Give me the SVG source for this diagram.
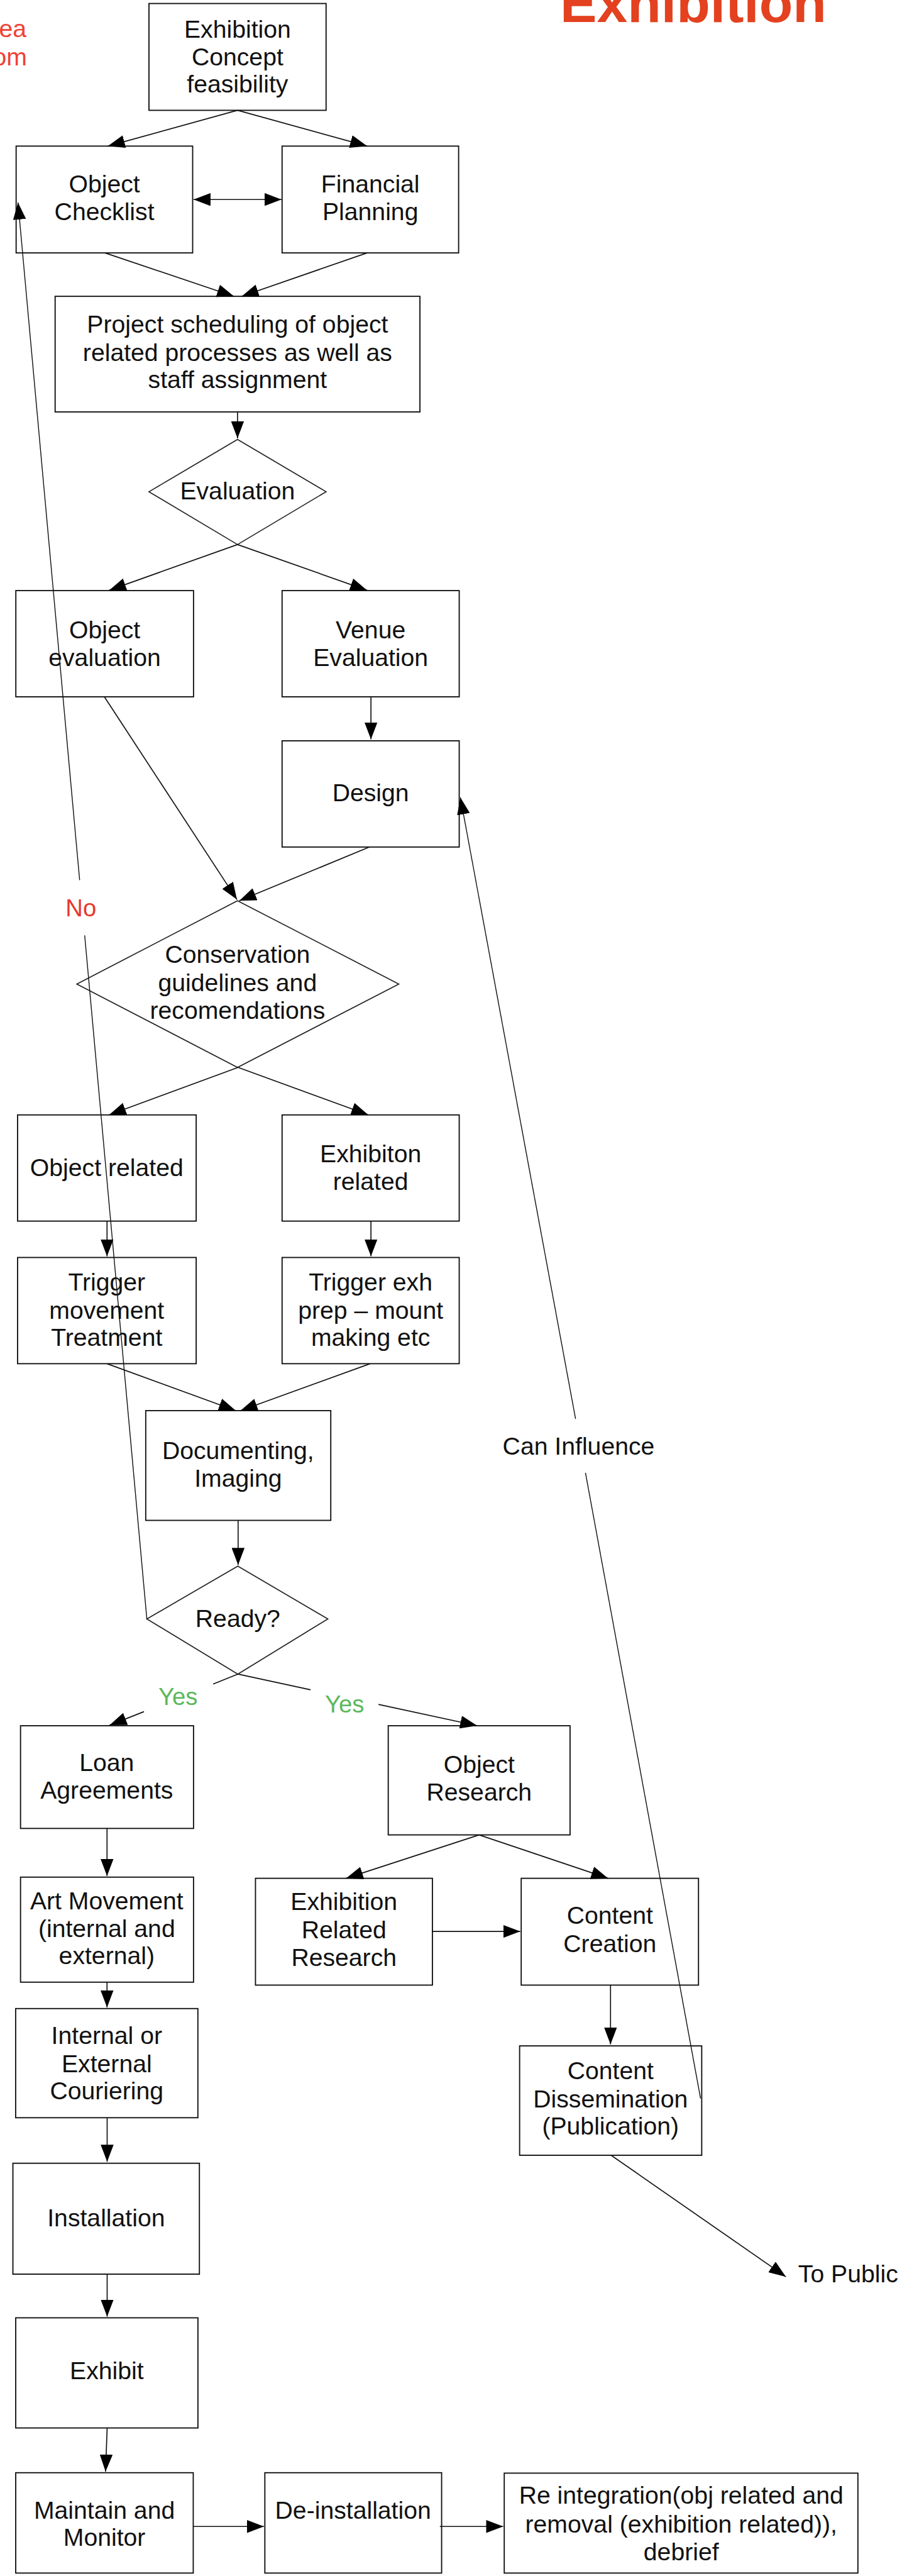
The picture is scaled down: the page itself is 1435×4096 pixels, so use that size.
<svg xmlns="http://www.w3.org/2000/svg" width="1435" height="4096" viewBox="0 0 1435 4096">
<style>
.box{fill:#fff;stroke:#111;stroke-width:2}
.dia{fill:#fff;stroke:#222;stroke-width:1.8}
.t{font-family:"Liberation Sans",Arial,Helvetica,sans-serif;font-size:42px;fill:#111;text-anchor:middle}
.c{fill:none;stroke:#111;stroke-width:1.8}
.thin{fill:none;stroke:#111;stroke-width:1.5}
.red{fill:#e8372b}
.green{fill:#5cb85c}
</style>
<defs>
<marker id="ah" markerUnits="userSpaceOnUse" markerWidth="29" markerHeight="22" refX="29" refY="11" orient="auto-start-reverse" viewBox="0 0 29 22">
<path d="M0,0 L29,11 L0,22 z" fill="#000"/>
</marker>
</defs>
<rect x="0" y="0" width="1435" height="4096" fill="#fff"/>
<g transform="scale(0.93303)">
<g id="page-text">
<text x="955" y="37" style="font-family:'Liberation Sans',Arial,sans-serif;font-size:94px;font-weight:bold;fill:#e3411f">Exhibition</text>
<text x="45" y="63" style="font-family:'Liberation Sans',Arial,sans-serif;font-size:42px;fill:#ef4136;text-anchor:end">ea</text>
<text x="46" y="111" style="font-family:'Liberation Sans',Arial,sans-serif;font-size:42px;fill:#ef4136;text-anchor:end">om</text>
</g>
<g id="n-concept"><rect class="box" x="254" y="6" width="302" height="182"/><text class="t"><tspan x="405" y="64">Exhibition</tspan><tspan x="405" y="112">Concept</tspan><tspan x="405" y="158">feasibility</tspan></text></g>
<g id="n-checklist"><rect class="box" x="27.5" y="249" width="301" height="182"/><text class="t"><tspan x="178" y="328">Object</tspan><tspan x="178" y="375">Checklist</tspan></text></g>
<g id="n-financial"><rect class="box" x="481" y="249" width="301" height="182"/><text class="t"><tspan x="631.5" y="328">Financial</tspan><tspan x="631.5" y="375">Planning</tspan></text></g>
<g id="n-scheduling"><rect class="box" x="94" y="505" width="622" height="197"/><text class="t"><tspan x="405" y="567">Project scheduling of object</tspan><tspan x="405" y="615">related processes as well as</tspan><tspan x="405" y="661">staff assignment</tspan></text></g>
<g id="d-evaluation"><polygon class="dia" points="405,749 556,838 405,928 254,838"/><text class="t" x="405" y="851">Evaluation</text></g>
<g id="n-objeval"><rect class="box" x="27" y="1006.5" width="303" height="181"/><text class="t"><tspan x="178.5" y="1088">Object</tspan><tspan x="178.5" y="1135">evaluation</tspan></text></g>
<g id="n-venue"><rect class="box" x="481" y="1006.5" width="302" height="181"/><text class="t"><tspan x="632" y="1088">Venue</tspan><tspan x="632" y="1135">Evaluation</tspan></text></g>
<g id="n-design"><rect class="box" x="481" y="1262.5" width="302" height="181"/><text class="t" x="632" y="1365">Design</text></g>
<g id="d-conservation"><polygon class="dia" points="405,1535 680,1677 405,1819 131,1677"/><text class="t"><tspan x="405" y="1641">Conservation</tspan><tspan x="405" y="1689">guidelines and</tspan><tspan x="405" y="1736">recomendations</tspan></text></g>
<g id="n-objrelated"><rect class="box" x="30" y="1900" width="304.5" height="181"/><text class="t" x="182" y="2004">Object related</text></g>
<g id="n-exhrelated"><rect class="box" x="481" y="1900" width="302" height="181"/><text class="t"><tspan x="632" y="1981">Exhibiton</tspan><tspan x="632" y="2028">related</tspan></text></g>
<g id="n-trigmove"><rect class="box" x="30" y="2143" width="304.5" height="181"/><text class="t"><tspan x="182" y="2199">Trigger</tspan><tspan x="182" y="2247">movement</tspan><tspan x="182" y="2294">Treatment</tspan></text></g>
<g id="n-trigexh"><rect class="box" x="481" y="2143" width="302" height="181"/><text class="t"><tspan x="632" y="2199">Trigger exh</tspan><tspan x="632" y="2247">prep – mount</tspan><tspan x="632" y="2294">making etc</tspan></text></g>
<g id="n-documenting"><rect class="box" x="248.5" y="2404" width="315.5" height="187"/><text class="t"><tspan x="406" y="2486">Documenting,</tspan><tspan x="406" y="2534">Imaging</tspan></text></g>
<g id="d-ready"><polygon class="dia" points="405.5,2669 559,2759 405.5,2853 250.4,2759"/><text class="t" x="405.5" y="2773">Ready?</text></g>
<g id="n-loan"><rect class="box" x="35" y="2941" width="295" height="175"/><text class="t"><tspan x="182" y="3018.6">Loan</tspan><tspan x="182" y="3065.6">Agreements</tspan></text></g>
<g id="n-objresearch"><rect class="box" x="662" y="2941" width="310" height="186"/><text class="t"><tspan x="817" y="3021">Object</tspan><tspan x="817" y="3069">Research</tspan></text></g>
<g id="n-artmove"><rect class="box" x="35" y="3199" width="295" height="179"/><text class="t"><tspan x="182" y="3253.6">Art Movement</tspan><tspan x="182" y="3300.6">(internal and</tspan><tspan x="182" y="3347.6">external)</tspan></text></g>
<g id="n-exhresearch"><rect class="box" x="435.6" y="3201" width="301.7" height="182"/><text class="t"><tspan x="586.5" y="3255">Exhibition</tspan><tspan x="586.5" y="3303">Related</tspan><tspan x="586.5" y="3350">Research</tspan></text></g>
<g id="n-creation"><rect class="box" x="888.7" y="3201" width="302.3" height="182"/><text class="t"><tspan x="1040" y="3279">Content</tspan><tspan x="1040" y="3327">Creation</tspan></text></g>
<g id="n-couriering"><rect class="box" x="26.7" y="3423" width="310.7" height="186"/><text class="t"><tspan x="182" y="3483">Internal or</tspan><tspan x="182" y="3531">External</tspan><tspan x="182" y="3578">Couriering</tspan></text></g>
<g id="n-dissemination"><rect class="box" x="886" y="3486.6" width="310.5" height="186.4"/><text class="t"><tspan x="1041" y="3543">Content</tspan><tspan x="1041" y="3591">Dissemination</tspan><tspan x="1041" y="3638">(Publication)</tspan></text></g>
<g id="n-installation"><rect class="box" x="22" y="3686.6" width="318" height="189"/><text class="t" x="181" y="3793.7">Installation</text></g>
<g id="n-exhibit"><rect class="box" x="26.8" y="3950" width="310.7" height="187.7"/><text class="t" x="182" y="4054.6">Exhibit</text></g>
<g id="n-maintain"><rect class="box" x="26.8" y="4214" width="302.7" height="171"/><text class="t"><tspan x="178" y="4292">Maintain and</tspan><tspan x="178" y="4338.6">Monitor</tspan></text></g>
<g id="n-deinstall"><rect class="box" x="451.6" y="4214" width="301.4" height="171"/><text class="t" x="602" y="4292">De-installation</text></g>
<g id="n-reintegration"><rect class="box" x="859.8" y="4214.7" width="603" height="170.3"/><text class="t"><tspan x="1161.5" y="4267">Re integration(obj related and</tspan><tspan x="1161.5" y="4316">removal (exhibition related)),</tspan><tspan x="1161.5" y="4363">debrief</tspan></text></g>
<g id="connectors">
<line class="c" x1="405" y1="188" x2="184" y2="249" marker-end="url(#ah)"/>
<line class="c" x1="405" y1="188" x2="626" y2="249" marker-end="url(#ah)"/>
<line class="c" x1="330" y1="340" x2="480" y2="340" marker-start="url(#ah)" marker-end="url(#ah)"/>
<line class="c" x1="179" y1="431" x2="399" y2="505" marker-end="url(#ah)"/>
<line class="c" x1="626" y1="431" x2="412" y2="505" marker-end="url(#ah)"/>
<line class="c" x1="405" y1="702" x2="405" y2="747" marker-end="url(#ah)"/>
<line class="c" x1="405" y1="928" x2="186" y2="1006" marker-end="url(#ah)"/>
<line class="c" x1="405" y1="928" x2="626" y2="1006" marker-end="url(#ah)"/>
<line class="c" x1="632.5" y1="1187.5" x2="632.5" y2="1260" marker-end="url(#ah)"/>
<line class="c" x1="178" y1="1187.5" x2="404" y2="1533" marker-end="url(#ah)"/>
<line class="c" x1="630" y1="1443.5" x2="408" y2="1535" marker-end="url(#ah)"/>
<line class="c" x1="406" y1="1819" x2="186" y2="1900" marker-end="url(#ah)"/>
<line class="c" x1="406" y1="1819" x2="628" y2="1900" marker-end="url(#ah)"/>
<line class="c" x1="182.5" y1="2081" x2="182.5" y2="2141" marker-end="url(#ah)"/>
<line class="c" x1="632.5" y1="2081" x2="632.5" y2="2141" marker-end="url(#ah)"/>
<line class="c" x1="182.5" y1="2324" x2="402" y2="2404" marker-end="url(#ah)"/>
<line class="c" x1="631" y1="2324" x2="410" y2="2404" marker-end="url(#ah)"/>
<line class="c" x1="406" y1="2591" x2="406" y2="2667" marker-end="url(#ah)"/>
<line class="c" x1="405.5" y1="2853" x2="363.4" y2="2870"/>
<line class="c" x1="245.5" y1="2917" x2="187" y2="2940" marker-end="url(#ah)"/>
<line class="c" x1="405.5" y1="2853" x2="529.6" y2="2879.8"/>
<line class="c" x1="645.4" y1="2904.7" x2="813.7" y2="2941" marker-end="url(#ah)"/>
<line class="c" x1="182.5" y1="3116" x2="182.5" y2="3197" marker-end="url(#ah)"/>
<line class="c" x1="817" y1="3127" x2="590" y2="3201" marker-end="url(#ah)"/>
<line class="c" x1="817" y1="3127" x2="1037" y2="3201" marker-end="url(#ah)"/>
<line class="c" x1="737.3" y1="3291.5" x2="887" y2="3291.5" marker-end="url(#ah)"/>
<line class="c" x1="182.5" y1="3378" x2="182.5" y2="3421" marker-end="url(#ah)"/>
<line class="c" x1="1041" y1="3383" x2="1041" y2="3484" marker-end="url(#ah)"/>
<line class="c" x1="182.7" y1="3609" x2="182.7" y2="3684" marker-end="url(#ah)"/>
<line class="c" x1="1042" y1="3673" x2="1340" y2="3880" marker-end="url(#ah)"/>
<line class="c" x1="182.7" y1="3875.7" x2="182.7" y2="3948" marker-end="url(#ah)"/>
<line class="c" x1="182.7" y1="4137.7" x2="180" y2="4212" marker-end="url(#ah)"/>
<line class="c" x1="329.5" y1="4305.6" x2="450" y2="4305.6" marker-end="url(#ah)"/>
<line class="c" x1="750" y1="4305.6" x2="858" y2="4305.6" marker-end="url(#ah)"/>
<line class="thin" x1="250.4" y1="2759" x2="144.4" y2="1594"/>
<line class="thin" x1="135.8" y1="1500" x2="30.7" y2="345" marker-end="url(#ah)"/>
<line class="thin" x1="1194.5" y1="3576" x2="998.3" y2="2510"/>
<line class="thin" x1="981.4" y1="2418" x2="785" y2="1359" marker-end="url(#ah)"/>
</g>
<g id="labels">
<text class="t red" x="138" y="1561.5" style="font-size:41px">No</text>
<text class="t green" x="303.5" y="2906" style="font-size:41px">Yes</text>
<text class="t green" x="587.5" y="2918" style="font-size:41px">Yes</text>
<text class="t" x="857" y="2479.3" style="text-anchor:start">Can Influence</text>
<text class="t" x="1361" y="3890" style="text-anchor:start">To Public</text>
</g>
</g>
</svg>
